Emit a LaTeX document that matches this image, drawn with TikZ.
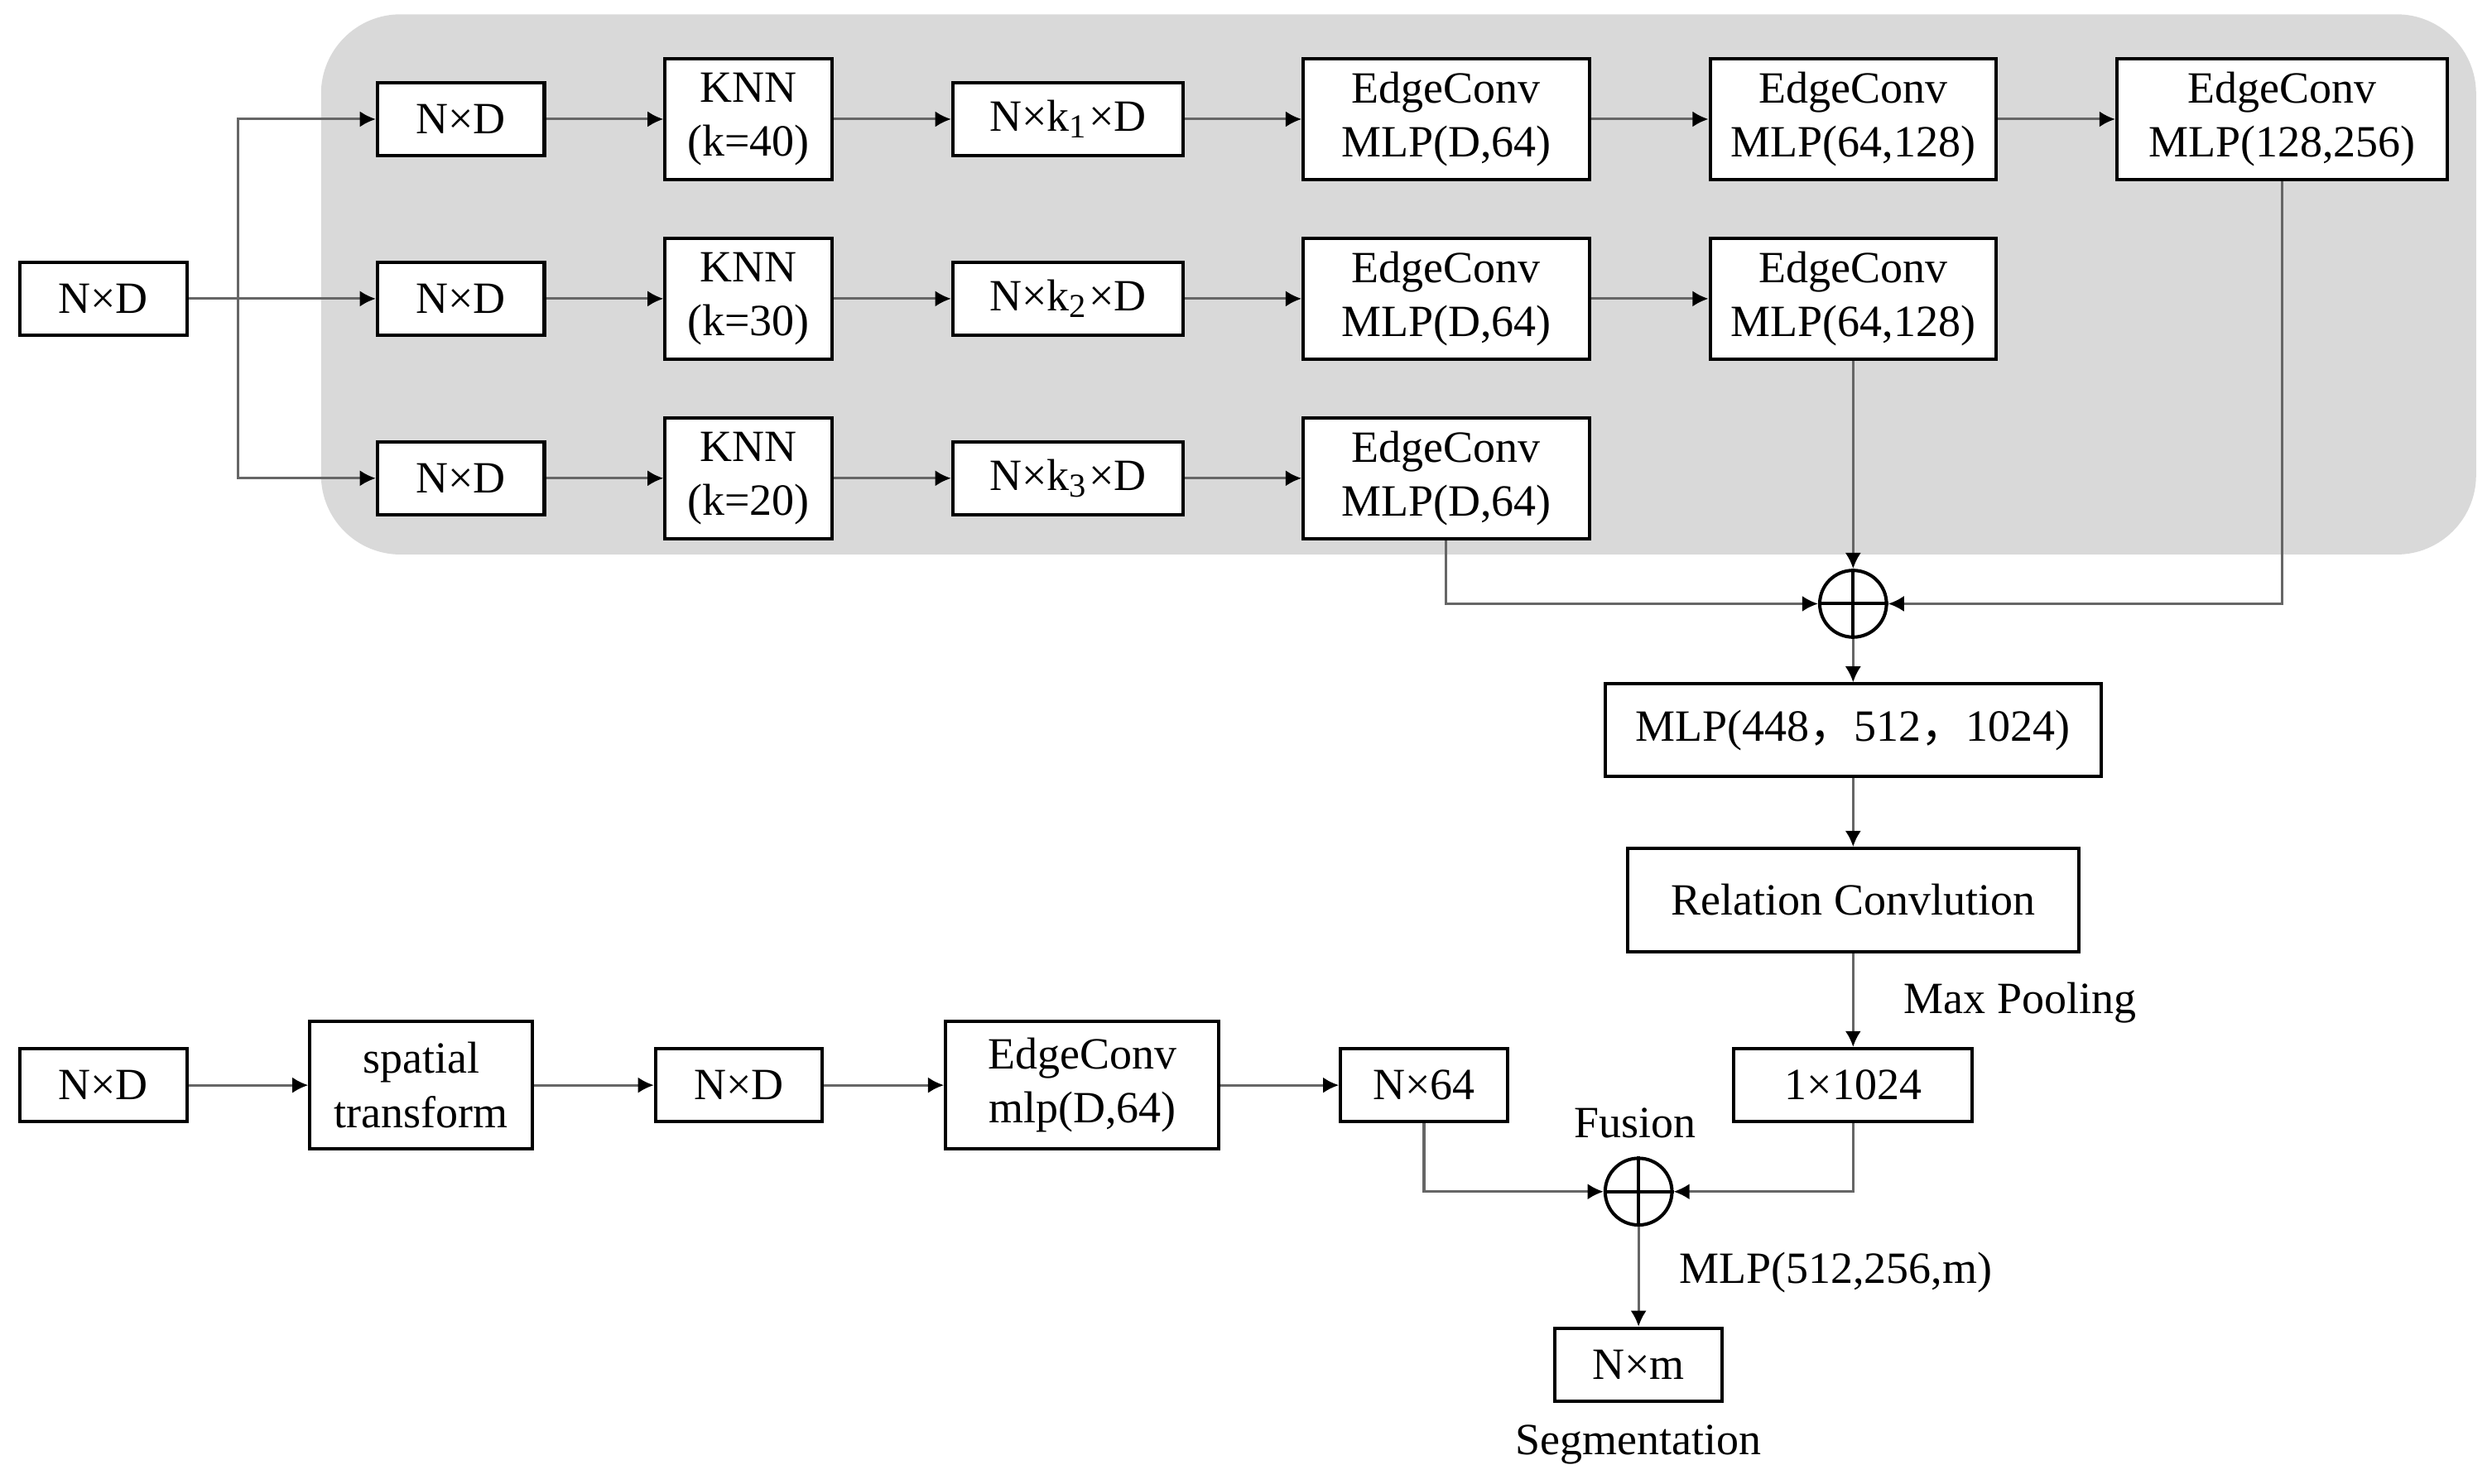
\documentclass[tikz,border=0pt]{standalone}
\usepackage{fontspec}
\setmainfont{Liberation Serif}
\newfontfamily\cjk{Noto Sans CJK SC}
\usetikzlibrary{arrows.meta,positioning,calc}

\tikzset{
  blk/.style={draw, line width=0.6pt, fill=white, inner sep=0pt, align=center},
  sml/.style={blk, minimum width=10.5mm, minimum height=4.6mm},
  tall/.style={blk, minimum width=10.5mm, minimum height=7.6mm},
  sumnode/.style={circle, draw, line width=0.6pt, minimum size=4.2mm, inner sep=0pt},
  lnk/.style={draw=black!60, line width=0.45pt, -{Latex[length=1mm,width=1mm,color=black]}},
}

\begin{document}
\begin{tikzpicture}[x=0.1mm, y=-0.1mm, font=\fontsize{8}{9.7}\selectfont]
\useasboundingbox (0,0) rectangle (1568,934);
\fill[black!15, rounded corners=5mm] (202,9) rectangle (1558,349);

% input and three knn branches
\node[sml] (in) at (65,188) {N×D};
\coordinate (br) at (150,188);
\foreach \r/\y/\k in {1/75/40, 2/188/30, 3/301/20} {
\node[sml] (nd\r) at (290,\y) {N×D};
\node[tall] (knn\r) at (471,\y) {KNN\\(k=\k)};
\node[sml, minimum width=14.5mm] (nk\r) at (672,\y) {N×k\textsubscript{\r}×D};
\node[tall, minimum width=18mm] (ea\r) at (910,\y) {EdgeConv\\MLP(D,64)};
\draw[lnk] (br) |- (nd\r.west);
\draw[lnk] (nd\r) -- (knn\r); \draw[lnk] (knn\r) -- (nk\r); \draw[lnk] (nk\r) -- (ea\r);
}
\draw[draw=black!60, line width=0.45pt] (in.east) -- (br);
\node[tall, minimum width=18mm] (eb1) at (1166,75) {EdgeConv\\MLP(64,128)};
\node[tall, minimum width=18mm] (eb2) at (1166,188) {EdgeConv\\MLP(64,128)};
\node[tall, minimum width=20.8mm] (ec1) at (1436,75) {EdgeConv\\MLP(128,256)};
\draw[lnk] (ea1) -- (eb1); \draw[lnk] (ea2) -- (eb2); \draw[lnk] (eb1) -- (ec1);

% concat
\node[sumnode] (s1) at (1166,380) {};
\draw[line width=0.6pt] (s1.north) -- (s1.south) (s1.west) -- (s1.east);
\draw[lnk] (eb2.south) -- (s1.north);
\draw[lnk] (ea3.south) |- (s1.west);
\draw[lnk] (ec1.south) |- (s1.east);

\node[blk, minimum width=31.2mm, minimum height=5.8mm] (mlp) at (1166,459.5) {MLP(448{\cjk ，}512{\cjk ，}1024)};
\node[blk, minimum width=28.4mm, minimum height=6.5mm] (rc) at (1166,566.5) {Relation Convlution};
\node[blk, minimum width=15mm, minimum height=4.6mm] (pool) at (1166,683) {1×1024};
\node (mp) at (1271,631) {Max Pooling};
\draw[lnk] (s1.south) -- (mlp.north);
\draw[lnk] (mlp.south) -- (rc.north);
\draw[lnk] (rc.south) -- (pool.north);

% lower branch
\node[sml] (in2) at (65,683) {N×D};
\node[tall, minimum width=14mm, minimum height=8mm] (st) at (265,683) {spatial\\transform};
\node[sml] (nd4) at (465,683) {N×D};
\node[tall, minimum width=17.2mm, minimum height=8mm] (ee) at (681,683) {EdgeConv\\mlp(D,64)};
\node[sml] (n64) at (896,683) {N×64};
\draw[lnk] (in2) -- (st); \draw[lnk] (st) -- (nd4); \draw[lnk] (nd4) -- (ee); \draw[lnk] (ee) -- (n64);

% fusion
\node[sumnode] (s2) at (1031,750) {};
\draw[line width=0.6pt] (s2.north) -- (s2.south) (s2.west) -- (s2.east);
\node (fu) at (1029,707) {Fusion};
\draw[lnk] (n64.south) |- (s2.west);
\draw[lnk] (pool.south) |- (s2.east);
\node[sml] (out) at (1031,859) {N×m};
\node (ml) at (1155,801) {MLP(512,256,m)};
\node (sg) at (1031,909) {Segmentation};
\draw[lnk] (s2.south) -- (out.north);
\end{tikzpicture}
\end{document}
